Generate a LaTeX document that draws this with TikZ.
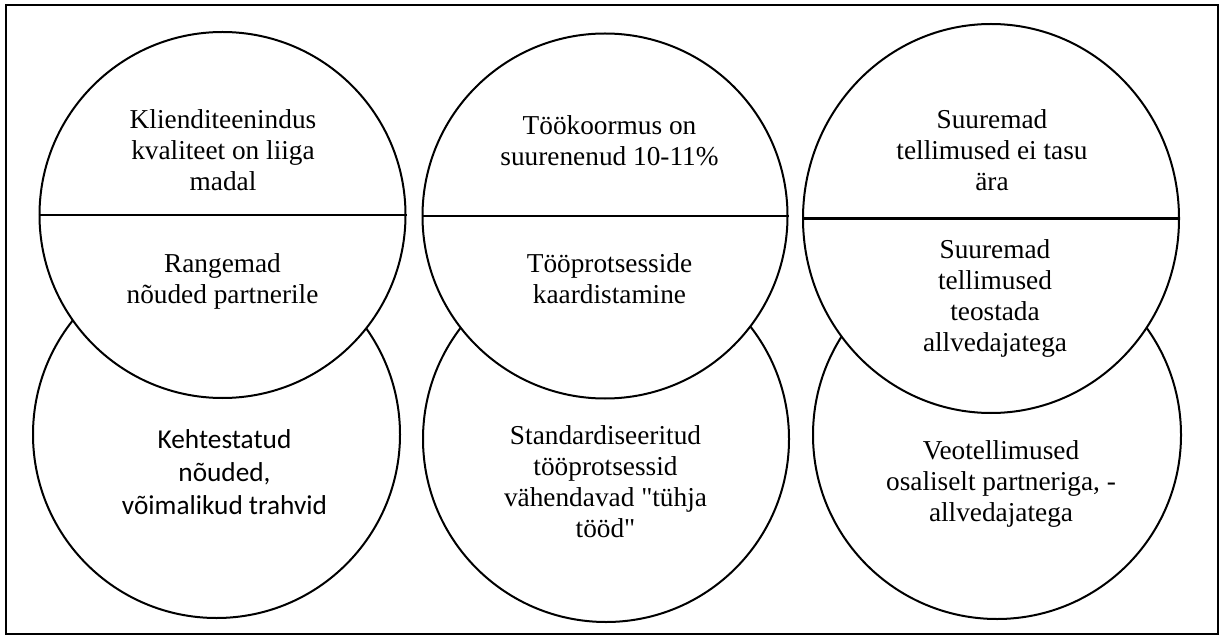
\documentclass[tikz,border=0pt]{standalone}
\usepackage{fontspec}
\newfontfamily\timesfont{Liberation Serif}[Ligatures=TeXOff]
\newfontfamily\calibrifont{Carlito}
\usetikzlibrary{shapes.geometric}
\begin{document}
\begin{tikzpicture}[x=1pt,y=-1pt,
  ring/.style={draw, line width=2pt, fill=white, circle, inner sep=0pt},
  oval/.style={draw, line width=2pt, fill=white, ellipse, inner sep=0pt},
  divider/.style={line width=2.5pt},
  frame/.style={line width=2.4pt},
  txt/.style={align=center, inner sep=0pt, font=\timesfont\fontsize{27.3}{31}\selectfont},
  sanstxt/.style={align=center, inner sep=0pt, font=\calibrifont\fontsize{27.3}{33}\selectfont},
]
\useasboundingbox (0,0) rectangle (1222,636);

% outer frame
\draw[frame] (6,5.3) rectangle (1218,634);

% lower circles (partly hidden)
\node[ring, minimum size=367pt] (b1) at (216.5,434.5) {};
\node[ring, minimum size=366pt] (b2) at (606,439) {};
\node[ring, minimum size=368pt] (b3) at (997,435) {};

% upper split circles
\node[ring, minimum size=366pt] (t1) at (222.5,215) {};
\node[ring, minimum size=365pt] (t2) at (605,216) {};
\node[oval, minimum width=376pt, minimum height=389pt] (t3) at (991,218.5) {};

\draw[divider] (t1.west) -- (t1.east);
\draw[divider] (t2.west) -- (t2.east);
\draw[divider] (t3.west) -- (t3.east);

% texts, column 1
\node[txt] (t1up) at (223,153.3) {\strut Klienditeenindus\\\strut kvaliteet on liiga\\\strut madal};
\node[txt] (t1lo) at (222.5,282.1) {\strut Rangemad\\\strut nõuded partnerile};
\node[sanstxt] (b1txt) at (224.5,474.9) {\strut Kehtestatud\\\strut nõuded,\\\strut võimalikud trahvid};

% texts, column 2
\node[txt] (t2up) at (609.5,144.1) {\strut Töökoormus on\\\strut suurenenud 10-11\%};
\node[txt] (t2lo) at (609.5,281.5) {\strut Tööprotsesside\\\strut kaardistamine};
\node[txt] (b2txt) at (605.5,485) {\strut Standardiseeritud\\\strut tööprotsessid\\\strut vähendavad "tühja\\\strut tööd"};

% texts, column 3
\node[txt] (t3up) at (992,153) {\strut Suuremad\\\strut tellimused ei tasu\\\strut ära};
\node[txt] (t3lo) at (995,299.1) {\strut Suuremad\\\strut tellimused\\\strut teostada\\\strut allvedajatega};
\node[txt] (b3txt) at (1001,483.8) {\strut Veotellimused\\\strut osaliselt partneriga, -\\\strut allvedajatega};
\end{tikzpicture}
\end{document}
